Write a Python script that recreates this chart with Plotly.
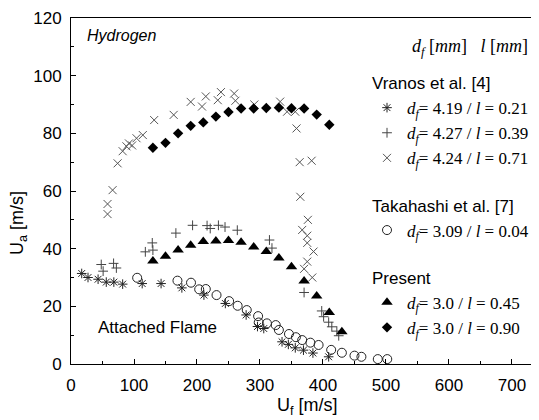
import plotly.graph_objects as go

# ---- data ----
vr021_x = [17, 27, 43, 56, 68, 82, 113, 143, 176, 211, 245, 278, 296, 306, 335, 345, 356, 369, 384, 409]
vr021_y = [31.4, 30, 29.4, 28.4, 28.4, 27.7, 27.9, 27.9, 26.4, 23.9, 21, 17, 13, 12.3, 7.7, 6.8, 5.6, 4.8, 3.8, 2.5]

vr039_x = [48, 51, 67.6, 72, 118, 129, 130, 166.5, 193, 216, 221, 234, 244.5, 264, 315, 319, 370, 398, 401, 409, 414, 422, 425]
vr039_y = [34.5, 32.2, 34.9, 33.3, 38.9, 42, 39.5, 45.4, 48.1, 48, 47, 48.1, 47.5, 46.4, 43, 40.2, 24.8, 18.4, 16.4, 14.5, 12.9, 11.4, 9.8]

vr071_x = [58, 58, 66, 74, 82, 88, 92, 97, 104, 114, 132, 163, 190, 208, 214, 233, 238, 259, 261, 291, 332, 343, 356, 358, 363, 382, 364, 376, 367, 375, 375, 385, 375, 370, 383]
vr071_y = [52, 55.5, 60.3, 69.6, 73.8, 75.5, 76.5, 75.8, 78.3, 79.4, 84.6, 86.4, 90.9, 89.3, 92.8, 91.5, 94.3, 93.8, 91.3, 90, 91, 87.5, 87.5, 81.7, 70, 70.5, 58, 50, 46.5, 44.5, 42, 39, 35.5, 33, 30]

tk_x = [105, 169, 190.5, 203.5, 214, 231, 251, 264.5, 279, 297, 298, 311, 325, 330, 346, 357, 367, 380, 393, 413, 430, 450, 461, 487, 502]
tk_y = [29.9, 28.9, 28.2, 25.9, 26, 23.9, 21.8, 20.2, 18.7, 16.6, 14.4, 14.1, 13.5, 11.8, 10.4, 9.3, 8.3, 7.4, 6.6, 4.9, 3.9, 2.9, 2.5, 1.7, 1.7]

pr045_x = [130, 150, 170, 190, 210, 230, 250, 270, 290, 310, 330, 350, 370, 390, 410, 430]
pr045_y = [35.7, 37.4, 39.5, 41.2, 42.5, 42.7, 42.8, 42.2, 40.6, 39, 36.8, 33.7, 28.8, 23.6, 17.9, 11.2]

pr090_x = [130, 150, 170, 190, 210, 230, 250, 270, 290, 310, 330, 350, 370, 390, 410]
pr090_y = [75, 76.7, 80, 82.6, 83.8, 85.8, 87.4, 88.6, 88.6, 88.8, 88.9, 88.7, 88.6, 86.5, 83]

x_ticks = [0, 100, 200, 300, 400, 500, 600, 700]
y_ticks = [0, 20, 40, 60, 80, 100, 120]

SERIF = "Liberation Serif"
SANS = "Liberation Sans"

def lab(d, l):
    return f"<i>d</i><sub><i>f</i></sub>= {d} / <i>l</i> = {l}"

fig = go.Figure()

def add(x, y, name, group, gtitle, symbol, size, color, lw=1):
    fig.add_trace(go.Scatter(
        x=x, y=y, mode="markers", name=name,
        legendgroup=group,
        legendgrouptitle=dict(text=gtitle, font=dict(family=SANS, size=17, color="black")),
        marker=dict(symbol=symbol, size=size, color=color,
                    line=dict(width=lw, color=color)),
    ))

add(vr021_x, vr021_y, lab("4.19", "0.21"), "v", "Vranos et al. [4]", "asterisk-open", 8, "#222222")
add(vr039_x, vr039_y, lab("4.27", "0.39"), "v", "Vranos et al. [4]", "cross-thin-open", 7, "#444444")
add(vr071_x, vr071_y, lab("4.24", "0.71"), "v", "Vranos et al. [4]", "x-thin-open", 8, "#555555")
add(tk_x, tk_y, lab("3.09", "0.04"), "t", "Takahashi et al. [7]", "circle-open", 9, "#222222")
add(pr045_x, pr045_y, lab("3.0", "0.45"), "p", "Present", "triangle-up", 10, "black", 0)
add(pr090_x, pr090_y, lab("3.0", "0.90"), "p", "Present", "diamond", 8, "black", 0)

axis_common = dict(
    showgrid=False, zeroline=False, showline=True, linecolor="black", linewidth=1,
    ticks="inside", ticklen=5, tickwidth=1, tickcolor="black",
    tickfont=dict(family=SANS, size=17, color="black"), automargin=False,
)

fig.update_xaxes(range=[0, 742.9], tickvals=x_ticks, ticktext=[str(v) for v in x_ticks],
                 minor=dict(ticks="inside", ticklen=3, dtick=50, tick0=0, tickcolor="black"),
                 mirror=True, ticklabelstandoff=6, **axis_common)
fig.update_yaxes(range=[0, 120], tickvals=y_ticks, ticktext=[str(v) for v in y_ticks],
                 minor=dict(ticks="inside", ticklen=3, dtick=10, tick0=0, tickcolor="black"),
                 ticklabelstandoff=5, **axis_common)

# page body has an 8px margin; the figure is sized to fit the window after it
OFF = 8
W, H = 539 - OFF, 420 - OFF
L, T = 71 - OFF, 18 - OFF
R = 0
B = H - (364 - OFF)
pw, ph = W - L - R, H - T - B

def px(xw):
    return (xw - OFF - L) / pw

def py(yw):
    return (H - B - (yw - OFF)) / ph

ann = [
    dict(text="U<sub>a</sub> [m/s]", x=px(19), y=py(223), textangle=-90,
         font=dict(family=SANS, size=18, color="black")),
    dict(text="U<sub>f</sub> [m/s]", x=px(307), y=py(407),
         font=dict(family=SANS, size=18, color="black")),
    dict(text="<i>d<sub>f</sub></i> [<i>mm</i>]   <i>l</i> [<i>mm</i>]", x=px(410), y=py(47),
         xanchor="left", font=dict(family=SERIF, size=18, color="black")),
]
for a in ann:
    a.update(xref="paper", yref="paper", showarrow=False)
    if "xanchor" not in a:
        a["xanchor"] = "center"
    a["yanchor"] = "middle"

ann += [
    dict(text="<i>Hydrogen</i>", x=22.2, y=114.1, xref="x", yref="y", showarrow=False,
         xanchor="left", yanchor="middle", font=dict(family=SANS, size=16, color="black")),
    dict(text="Attached Flame", x=138, y=12.5, xref="x", yref="y", showarrow=False,
         xanchor="center", yanchor="middle", font=dict(family=SANS, size=17, color="black")),
]

fig.update_layout(
    width=W, height=H,
    margin=dict(l=L, r=R, t=T, b=B, pad=0, autoexpand=False),
    paper_bgcolor="white", plot_bgcolor="white",
    annotations=ann,
    showlegend=True,
    legend=dict(x=px(367), y=py(65), xanchor="left", yanchor="top",
                bgcolor="rgba(0,0,0,0)", borderwidth=0,
                font=dict(family=SERIF, size=17, color="black"),
                traceorder="grouped", tracegroupgap=22, itemwidth=30),
)

fig.write_html("out.html")
